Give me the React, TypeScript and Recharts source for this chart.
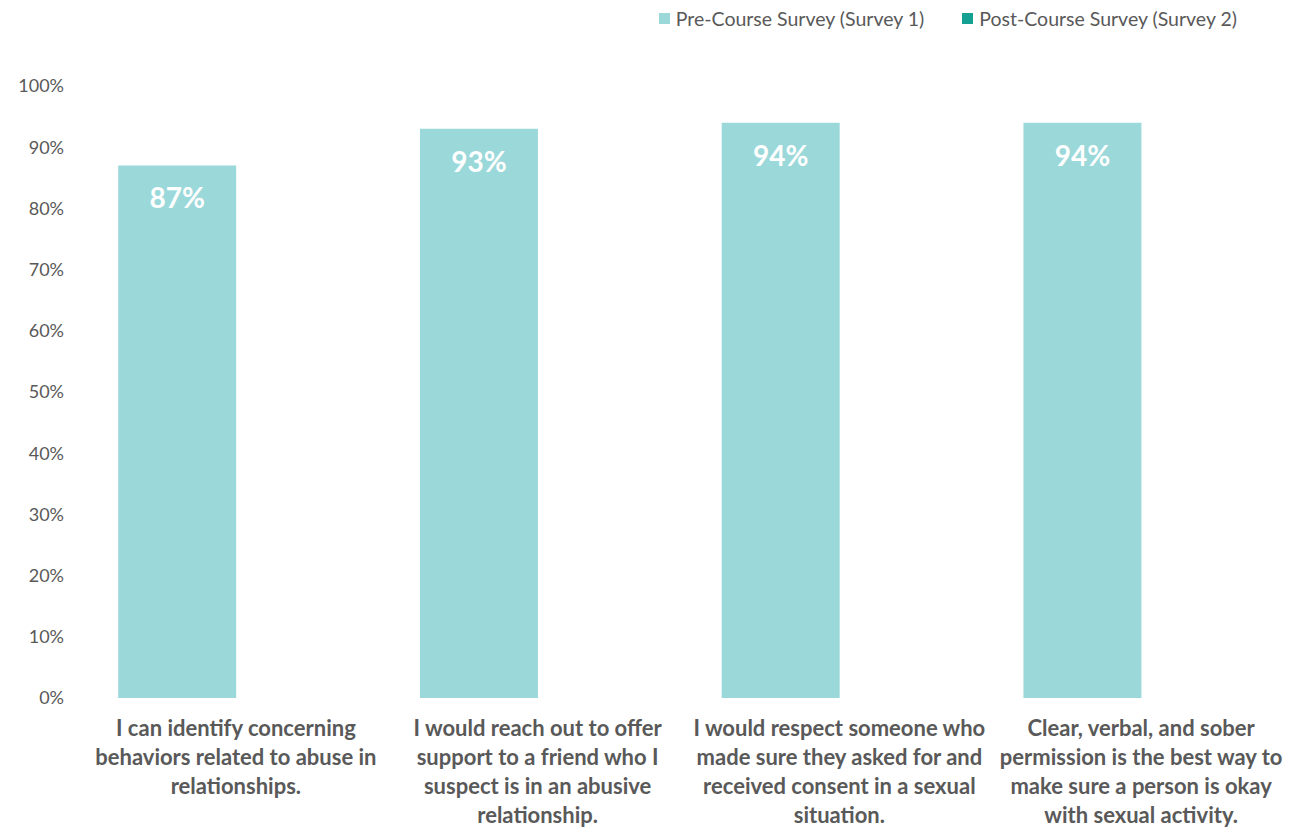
import React from "react";
import { BarChart, Bar, XAxis, YAxis, LabelList } from "recharts";

// category labels, line breaks as they appear on the chart
const categories = [
  "I can identify concerning\nbehaviors related to abuse in\nrelationships.",
  "I would reach out to offer\nsupport to a friend who I\nsuspect is in an abusive\nrelationship.",
  "I would respect someone who\nmade sure they asked for and\nreceived consent in a sexual\nsituation.",
  "Clear, verbal, and sober\npermission is the best way to\nmake sure a person is okay\nwith sexual activity.",
];
const preCourse = [87, 93, 94, 94];
const postCourse: (number | null)[] = [null, null, null, null];
const yTicks = [0, 10, 20, 30, 40, 50, 60, 70, 80, 90, 100];
const seriesNames = ["Pre-Course Survey (Survey 1)", "Post-Course Survey (Survey 2)"];

const PRE_COLOR = "#9bd8da";
const POST_COLOR = "#14a194";
const TEXT = "#595959";
const FONT = "Lato, 'Open Sans', sans-serif";

const data = categories.map((c, i) => ({
  name: c,
  pre: preCourse[i],
  post: postCourse[i],
}));

const CategoryTick = (props: any) => {
  const { x, y, payload } = props;
  const lines = String(payload.value).split("\n");
  return (
    <text x={x} y={y} textAnchor="middle" fill={TEXT} fontFamily={FONT} fontWeight={700} fontSize={22}>
      {lines.map((l, i) => (
        <tspan key={i} x={x} dy={i === 0 ? 30 : 29}>
          {l}
        </tspan>
      ))}
    </text>
  );
};

function ChartLegend() {
  const colors = [PRE_COLOR, POST_COLOR];
  return (
    <div
      style={{
        position: "absolute",
        top: 7,
        right: 52,
        display: "flex",
        gap: 38,
        fontFamily: FONT,
        fontSize: 19.5,
        color: TEXT,
        whiteSpace: "nowrap",
      }}
    >
      {seriesNames.map((label, i) => (
        <div key={label} style={{ display: "flex", alignItems: "center", gap: 6 }}>
          <span style={{ width: 11, height: 11, background: colors[i], display: "inline-block" }} />
          <span>{label}</span>
        </div>
      ))}
    </div>
  );
}

export default function App() {
  return (
    <div style={{ position: "absolute", left: 0, top: 0, width: 1289, height: 828, background: "#fff" }}>
      <ChartLegend />
      <BarChart
        width={1289}
        height={828}
        data={data}
        margin={{ top: 86, right: -3, bottom: 0, left: 0 }}
        barCategoryGap="11%"
        barGap={0}
      >
        <XAxis
          dataKey="name"
          axisLine={false}
          tickLine={false}
          interval={0}
          height={130}
          tick={<CategoryTick />}
        />
        <YAxis
          domain={[0, 100]}
          ticks={yTicks}
          width={85}
          axisLine={false}
          tickLine={false}
          tickMargin={15}
          tickFormatter={(v) => `${v}%`}
          tick={{ fill: TEXT, fontSize: 18, fontFamily: FONT }}
        />
        <Bar dataKey="pre" name={seriesNames[0]} fill={PRE_COLOR} isAnimationActive={false}>
          <LabelList
            dataKey="pre"
            position="insideTop"
            offset={23}
            formatter={(v: any) => `${v}%`}
            style={{ fill: "#fff", fontSize: 28, fontWeight: 700, fontFamily: FONT }}
          />
        </Bar>
        <Bar dataKey="post" name={seriesNames[1]} fill={POST_COLOR} isAnimationActive={false} />
      </BarChart>
    </div>
  );
}
